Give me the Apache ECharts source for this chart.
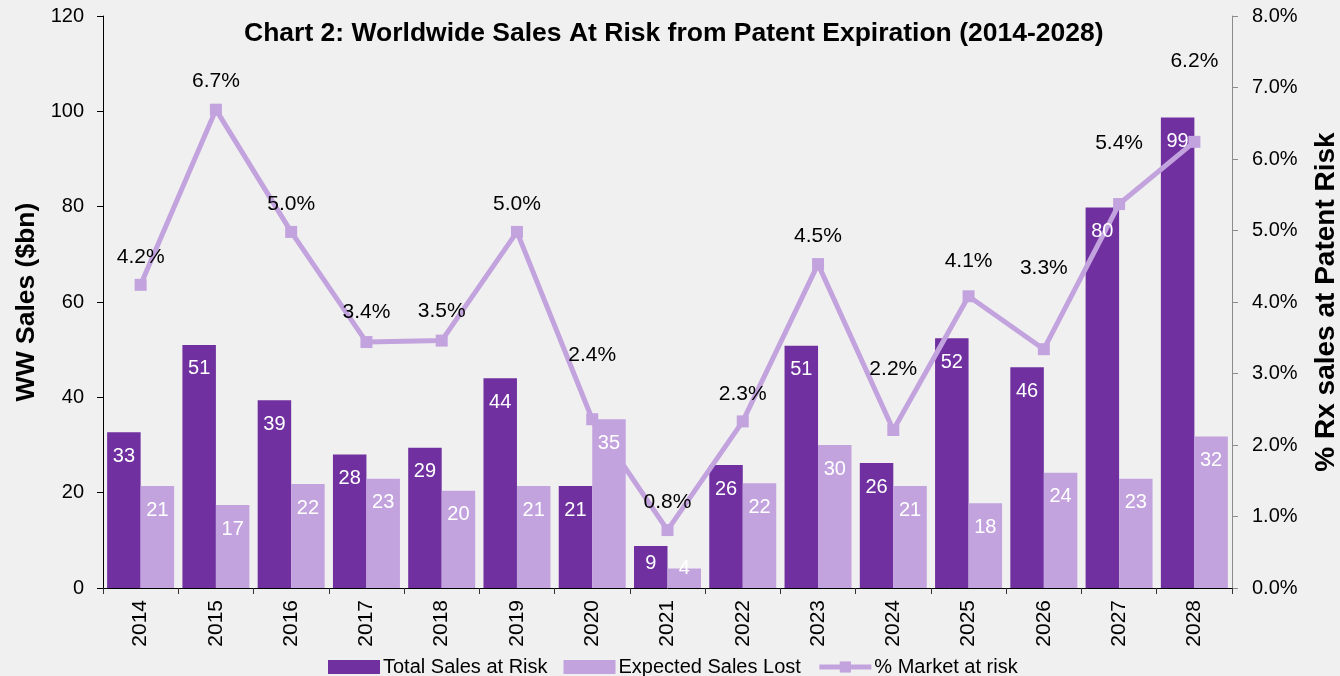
<!DOCTYPE html>
<html>
<head>
<meta charset="utf-8">
<script src="https://cdn.jsdelivr.net/npm/echarts@6/dist/echarts.min.js"></script>
<style>
  html, body { margin: 0; padding: 0; background: #f0f0f0; }
  #chart { width: 1340px; height: 676px; }
</style>
</head>
<body>
<div id="chart"></div>
<script>
// 数据
const years = ['2014', '2015', '2016', '2017', '2018', '2019', '2020', '2021', '2022', '2023', '2024', '2025', '2026', '2027', '2028']
const totalSales = [32.7, 51.0, 39.4, 28.0, 29.4, 44.0, 21.4, 8.8, 25.8, 50.8, 26.2, 52.4, 46.3, 79.8, 98.7]
const expectedLost = [21.4, 17.4, 21.8, 22.9, 20.4, 21.4, 35.4, 4.1, 22.0, 30.0, 21.4, 17.8, 24.2, 22.9, 31.8]
const marketRisk = [4.24, 6.69, 4.98, 3.44, 3.46, 4.98, 2.36, 0.81, 2.33, 4.53, 2.21, 4.08, 3.34, 5.37, 6.24]
const leftTicks = { min: 0, max: 120, interval: 20 }
const rightTicks = { min: 0, max: 8, interval: 1 }

// 标签手动上移（原图里手动挪过的标签）
const labelLift = [0, 1, 0, 2, 2, 0, 37, 0, 0, 0, 33, 8, 53, 33, 53]

const FONT = '"Liberation Sans", Arial, sans-serif'
const DARK = '#7030a0'
const LIGHT = '#c3a3de'

// 小柱子的标签位置特殊处理
const barItem = (v) => {
  if (v < 6) return { value: v, label: { distance: -10 } }
  if (v < 12) return { value: v, label: { distance: 7 } }
  return v
}

const barLabel = {
  show: true,
  position: 'insideTop',
  distance: 14,
  color: '#fff',
  fontSize: 20,
  fontFamily: FONT,
  formatter: (p) => Math.round(p.value)
}

const chart = echarts.init(document.getElementById('chart'))

const option = {
  backgroundColor: '#f0f0f0',
  animation: false,
  textStyle: { fontFamily: FONT },
  title: {
    text: 'Chart 2: Worldwide Sales At Risk from Patent Expiration (2014-2028)',
    left: 244,
    top: 20,
    padding: 0,
    textStyle: { fontSize: 26.5, fontWeight: 'bold', color: '#000', fontFamily: FONT }
  },
  legend: {
    left: 328,
    top: 657,
    padding: 0,
    itemWidth: 52,
    itemHeight: 14,
    itemGap: 16,
    lineStyle: { width: 5 },
    textStyle: { fontSize: 20, color: '#000', fontFamily: FONT, padding: [0, 0, 0, -2] },
    data: [
      { name: 'Total Sales at Risk', icon: 'rect' },
      { name: 'Expected Sales Lost', icon: 'rect' },
      { name: '% Market at risk' }
    ]
  },
  grid: { left: 103, right: 108, top: 16, bottom: 88, outerBoundsMode: 'none' },
  xAxis: [
    {
      type: 'category',
      data: years,
      axisLine: { lineStyle: { color: '#000', width: 1 } },
      axisTick: { show: true, length: 6, lineStyle: { color: '#333' } },
      axisLabel: { rotate: 90, fontSize: 21, color: '#000', margin: 12, fontFamily: FONT }
    },
    {
      // 隐藏的轴，只用来把柱子标签画在折线上面
      type: 'category',
      data: years,
      show: false
    }
  ],
  yAxis: [
    {
      type: 'value',
      min: leftTicks.min,
      max: leftTicks.max,
      interval: leftTicks.interval,
      name: 'WW Sales ($bn)',
      nameLocation: 'middle',
      nameRotate: 90,
      nameGap: 62,
      nameTextStyle: { fontSize: 26.5, fontWeight: 'bold', color: '#000', fontFamily: FONT },
      axisLine: { show: true, lineStyle: { color: '#000' } },
      axisTick: { show: true, length: 6, lineStyle: { color: '#000' } },
      axisLabel: { fontSize: 20, color: '#000', margin: 19, fontFamily: FONT },
      splitLine: { show: false }
    },
    {
      type: 'value',
      position: 'right',
      min: rightTicks.min,
      max: rightTicks.max,
      interval: rightTicks.interval,
      name: '% Rx sales at Patent Risk',
      nameLocation: 'middle',
      nameRotate: 90,
      nameGap: 80,
      nameTextStyle: { fontSize: 28, fontWeight: 'bold', color: '#000', fontFamily: FONT },
      axisLine: { show: true, lineStyle: { color: '#8c8c8c' } },
      axisTick: { show: true, length: 6, lineStyle: { color: '#8c8c8c' } },
      axisLabel: {
        fontSize: 20, color: '#000', margin: 20, fontFamily: FONT,
        formatter: (v) => v.toFixed(1) + '%'
      },
      splitLine: { show: false }
    }
  ],
  series: [
    {
      name: 'Total Sales at Risk',
      type: 'bar',
      z: 2,
      barGap: 0,
      barCategoryGap: '11%',
      itemStyle: { color: DARK },
      data: totalSales
    },
    {
      name: 'Expected Sales Lost',
      type: 'bar',
      z: 2,
      itemStyle: { color: LIGHT },
      data: expectedLost
    },
    {
      name: '% Market at risk',
      type: 'line',
      z: 3,
      yAxisIndex: 1,
      symbol: 'rect',
      symbolSize: 12,
      lineStyle: { color: LIGHT, width: 5 },
      itemStyle: { color: LIGHT },
      label: {
        show: true,
        position: 'top',
        distance: 11,
        color: '#000',
        fontSize: 21,
        fontFamily: FONT,
        formatter: (p) => p.value.toFixed(1) + '%'
      },
      data: marketRisk.map((v, i) => ({ value: v, label: { distance: 11 + labelLift[i] } }))
    },
    // 透明柱子，只显示数值标签
    {
      name: 'totalLabels',
      type: 'bar',
      xAxisIndex: 1,
      z: 5,
      barGap: 0,
      barCategoryGap: '11%',
      itemStyle: { color: 'rgba(0,0,0,0)' },
      label: barLabel,
      silent: true,
      data: totalSales.map(barItem)
    },
    {
      name: 'lostLabels',
      type: 'bar',
      xAxisIndex: 1,
      z: 5,
      itemStyle: { color: 'rgba(0,0,0,0)' },
      label: barLabel,
      silent: true,
      data: expectedLost.map(barItem)
    }
  ]
}

chart.setOption(option)
</script>
</body>
</html>
